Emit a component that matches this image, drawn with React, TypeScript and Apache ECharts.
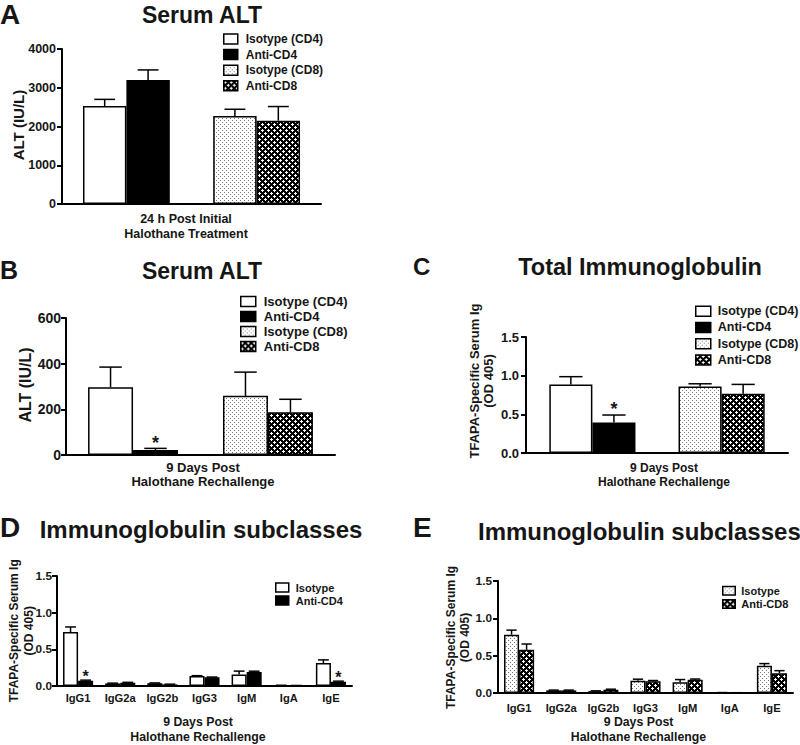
import React, { useEffect, useRef } from 'react';
import * as echarts from 'echarts';

// ---------------- data ----------------
const groupNames = ['Isotype (CD4)', 'Anti-CD4', 'Isotype (CD8)', 'Anti-CD8'];
const initialCategory = ['24 h Post Initial\nHalothane Treatment'];
const rechallengeCategory = ['9 Days Post\nHalothane Rechallenge'];
const subclassCategories = ['IgG1', 'IgG2a', 'IgG2b', 'IgG3', 'IgM', 'IgA', 'IgE'];

const altInitialTicks = [0, 1000, 2000, 3000, 4000];
const altInitialValues = [2530, 3200, 2270, 2150];
const altInitialErrors = [170, 260, 175, 365];

const altRechallengeTicks = [0, 200, 400, 600];
const altRechallengeValues = [297, 22, 259, 187];
const altRechallengeErrors = [88, 7, 104, 57];
const altRechallengeStars = [0, 1, 0, 0];

const odTicks = [0, 0.5, 1.0, 1.5];
const totalIgValues = [0.887, 0.396, 0.86, 0.767];
const totalIgErrors = [0.1, 0.095, 0.035, 0.12];
const totalIgStars = [0, 1, 0, 0];

const cd4SubNames = ['Isotype', 'Anti-CD4'];
const cd4IsotypeValues = [0.735, 0.035, 0.038, 0.136, 0.158, 0.008, 0.314];
const cd4IsotypeErrors = [0.07, 0.004, 0.004, 0.005, 0.045, 0.002, 0.042];
const cd4AntiValues = [0.072, 0.045, 0.022, 0.118, 0.19, 0.005, 0.058];
const cd4AntiErrors = [0.008, 0.005, 0.003, 0.004, 0.012, 0.002, 0.008];
const cd4AntiStars = [1, 0, 0, 0, 0, 0, 1];

const cd8SubNames = ['Isotype', 'Anti-CD8'];
const cd8IsotypeValues = [0.78, 0.035, 0.025, 0.165, 0.145, 0.005, 0.364];
const cd8IsotypeErrors = [0.062, 0.004, 0.004, 0.02, 0.035, 0.001, 0.03];
const cd8AntiValues = [0.578, 0.035, 0.045, 0.157, 0.177, 0.003, 0.264];
const cd8AntiErrors = [0.078, 0.004, 0.006, 0.01, 0.01, 0.001, 0.035];

// ---------------- styling ----------------
const FONT = '"Liberation Sans", Arial, Helvetica, sans-serif';
const INK = '#161616';

function makePattern(bg: string, fg: string, pts: number[][], size: number) {
  const c = document.createElement('canvas');
  c.width = size;
  c.height = size;
  const ctx = c.getContext('2d')!;
  ctx.fillStyle = bg;
  ctx.fillRect(0, 0, size, size);
  ctx.fillStyle = fg;
  pts.forEach(([x, y, w, h]) => ctx.fillRect(x, y, w, h));
  return { image: c, repeat: 'repeat', imageWidth: size, imageHeight: size };
}

function buildOption() {
  const dotPattern = makePattern('#ffffff', '#7a7a7a', [[0, 0, 1, 1], [2, 2, 1, 1]], 4);
  const hatchPattern = makePattern('#000000', '#ffffff', [
    [1, 0, 1, 1], [0, 1, 3, 1], [1, 2, 1, 1],
    [4, 3, 1, 1], [3, 4, 3, 1], [4, 5, 1, 1],
  ], 6);
  const border = { borderColor: '#000', borderWidth: 1.5 };
  const whiteStyle = { color: '#ffffff', ...border };
  const blackStyle = { color: '#000000', ...border };
  const dotStyle = { color: dotPattern, ...border };
  const hatchStyle = { color: hatchPattern, ...border };
  const groupStyles = [whiteStyle, blackStyle, dotStyle, hatchStyle];

  const grids = [
    { left: 62, top: 49, width: 259, height: 155 },
    { left: 66, top: 318, width: 269, height: 137 },
    { left: 526, top: 337, width: 262, height: 116 },
    { left: 57, top: 576, width: 295, height: 115 },
    { left: 498, top: 581, width: 295, height: 114 },
  ];

  const yAxis = (gridIndex: number, ticks: number[], fontSize: number, margin: number, decimals: boolean) => ({
    type: 'value',
    gridIndex,
    min: ticks[0],
    max: ticks[ticks.length - 1],
    interval: ticks[1] - ticks[0],
    axisLine: { show: true, lineStyle: { color: '#000', width: 2 } },
    axisTick: { show: true, length: 5, lineStyle: { color: '#000', width: 2 } },
    splitLine: { show: false },
    axisLabel: {
      color: INK,
      fontSize,
      fontWeight: 'bold',
      fontFamily: FONT,
      margin,
      formatter: (v: number) => (decimals ? v.toFixed(1) : String(v)),
    },
  });

  const groupXAxis = (gridIndex: number, data: string[], fontSize: number, lineHeight: number, margin: number, padding: number[]) => ({
    type: 'category',
    gridIndex,
    data,
    axisTick: { show: false },
    axisLine: { lineStyle: { color: '#000', width: 2 } },
    axisLabel: { color: INK, fontSize, fontWeight: 'bold', fontFamily: FONT, lineHeight, margin, padding, interval: 0 },
  });

  const subXAxis = (gridIndex: number, labelMargin: number, nameGap: number, padding: number[]) => ({
    type: 'category',
    gridIndex,
    data: subclassCategories,
    axisTick: { show: false },
    axisLine: { lineStyle: { color: '#000', width: 2 } },
    axisLabel: { color: INK, fontSize: 11.2, fontWeight: 'bold', fontFamily: FONT, margin: labelMargin, interval: 0 },
    name: rechallengeCategory[0],
    nameLocation: 'middle',
    nameGap,
    nameMoveOverlap: false,
    nameTextStyle: { color: INK, fontSize: 12.3, fontWeight: 'bold', fontFamily: FONT, lineHeight: 14.5, padding },
  });

  const errorSeries = (gridIdx: number, data: number[][], nSlots: number, gapFrac: number, capFrac: number, starSize: number, starOffset: number) => ({
    type: 'custom',
    name: 'error' + gridIdx,
    xAxisIndex: gridIdx,
    yAxisIndex: gridIdx,
    z: 5,
    silent: true,
    encode: { x: 0, y: 1 },
    data,
    renderItem: (params: any, api: any) => {
      const cat = api.value(0);
      const val = api.value(1);
      const err = api.value(2);
      const slot = api.value(3);
      const star = api.value(4);
      const band = api.size([1, 0])[0];
      const used = band * (1 - gapFrac);
      const bw = used / nSlots;
      const cx = api.coord([cat, 0])[0] - used / 2 + bw * (slot + 0.5);
      const yv = api.coord([cat, val])[1];
      const ye = api.coord([cat, val + err])[1];
      const half = bw * capFrac;
      const ls = { stroke: '#000', lineWidth: 1.5 };
      const children: any[] = [
        { type: 'line', shape: { x1: cx, y1: yv, x2: cx, y2: ye }, style: ls },
        { type: 'line', shape: { x1: cx - half, y1: ye, x2: cx + half, y2: ye }, style: ls },
      ];
      if (star) {
        children.push({
          type: 'text',
          x: cx,
          y: ye - starOffset,
          style: {
            text: '*', fill: INK, fontSize: starSize, fontWeight: 'bold', fontFamily: FONT,
            textAlign: 'center', textVerticalAlign: 'middle', align: 'center', verticalAlign: 'middle',
          },
        });
      }
      return { type: 'group', children };
    },
  });

  const groupBars = (gridIdx: number, values: number[], gap: string) => {
    const out: any[] = [];
    groupNames.forEach((name, i) => {
      if (i === 2) {
        out.push({
          type: 'bar', name: 'spacer' + gridIdx, xAxisIndex: gridIdx, yAxisIndex: gridIdx,
          data: ['-'], barGap: '0%', barCategoryGap: gap, silent: true,
        });
      }
      out.push({
        type: 'bar', name, xAxisIndex: gridIdx, yAxisIndex: gridIdx, data: [values[i]],
        itemStyle: groupStyles[i], barGap: '0%', barCategoryGap: gap, silent: true,
      });
    });
    return out;
  };

  const groupErrData = (values: number[], errors: number[], stars: number[]) =>
    values.map((v, i) => [0, v, errors[i], i < 2 ? i : i + 1, stars[i]]);

  const subBars = (gridIdx: number, names: string[], values: number[][], styles: any[]) =>
    names.map((name, i) => ({
      type: 'bar', name, xAxisIndex: gridIdx, yAxisIndex: gridIdx, data: values[i],
      itemStyle: styles[i], barGap: '0%', barCategoryGap: '28.6%', silent: true,
    }));

  const subErrData = (values: number[][], errors: number[][], stars: number[][]) => {
    const out: number[][] = [];
    values.forEach((arr, s) => arr.forEach((v, c) => out.push([c, v, errors[s][c], s, stars[s][c]])));
    return out;
  };

  const legend = (left: number, top: number, names: string[], styles: any[], iw: number, ih: number, fontSize: number, lineHeight: number, pad: number) => ({
    orient: 'vertical',
    left,
    top,
    padding: 0,
    itemGap: 0,
    itemWidth: iw,
    itemHeight: ih,
    icon: 'rect',
    selectedMode: false,
    textStyle: { color: INK, fontSize, fontWeight: 'bold', fontFamily: FONT, lineHeight, padding: [0, 0, 0, pad] },
    data: names.map((n, i) => ({ name: n, itemStyle: { ...styles[i], borderColor: '#000', borderWidth: 1.5 } })),
  });

  const gtext = (text: string, x: number, y: number, size: number, align = 'center', rotation = 0, lineHeight?: number) => ({
    type: 'text',
    x,
    y,
    rotation,
    silent: true,
    style: {
      text, fill: INK, fontSize: size, fontWeight: 'bold', fontFamily: FONT,
      textAlign: align, textVerticalAlign: 'middle', align, verticalAlign: 'middle', lineHeight,
    },
  });

  const yName = 'TFAPA-Specific Serum Ig\n(OD 405)';
  const R = Math.PI / 2;

  return {
    animation: false,
    backgroundColor: '#ffffff',
    textStyle: { fontFamily: FONT },
    grid: grids,
    xAxis: [
      groupXAxis(0, initialCategory, 12.5, 15, 7.5, [0, 11, 0, 0]),
      groupXAxis(1, rechallengeCategory, 13, 14, 5.5, [0, 0, 0, 5]),
      groupXAxis(2, rechallengeCategory, 12, 14, 7.5, [0, 0, 0, 14]),
      subXAxis(3, 6, 29, [0, 13, 0, 0]),
      subXAxis(4, 9, 22, [0, 14, 0, 0]),
    ],
    yAxis: [
      yAxis(0, altInitialTicks, 12.5, 6, false),
      yAxis(1, altRechallengeTicks, 14, 5, false),
      yAxis(2, odTicks, 13, 7, true),
      yAxis(3, odTicks, 11.8, 5, true),
      yAxis(4, odTicks, 11.8, 6, true),
    ],
    legend: [
      legend(223, 31.2, groupNames, groupStyles, 14, 10, 12, 15.6, 3),
      legend(240, 294, groupNames, groupStyles, 15, 10, 13, 15, 3),
      legend(695, 303, groupNames, groupStyles, 15, 10, 12.5, 16.3, 2),
      legend(275, 581, cd4SubNames, [whiteStyle, blackStyle], 13, 9, 11, 13, 2),
      legend(722, 584, cd8SubNames, [dotStyle, hatchStyle], 12.5, 8.5, 11, 13.3, 1),
    ],
    graphic: {
      elements: [
        gtext('A', 0, 14, 28, 'left'),
        gtext('Serum ALT', 202, 15, 23),
        gtext('B', 0, 270, 25, 'left'),
        gtext('Serum ALT', 202, 270.5, 23),
        gtext('C', 413, 266.5, 24, 'left'),
        gtext('Total Immunoglobulin', 640, 267.2, 23.5),
        gtext('D', 0, 527, 28, 'left'),
        gtext('Immunoglobulin subclasses', 201, 529, 24),
        gtext('E', 413, 527.5, 28, 'left'),
        gtext('Immunoglobulin subclasses', 478, 531.3, 24, 'left'),
        gtext('ALT (IU/L)', 18, 125, 15, 'center', R),
        gtext('ALT (IU/L)', 25, 385, 16, 'center', R),
        gtext(yName, 481.5, 381, 13, 'center', R, 14),
        gtext(yName, 21.3, 630.8, 12, 'center', R, 15),
        gtext(yName, 458.3, 637.5, 12, 'center', R, 14),
      ],
    },
    series: [
      ...groupBars(0, altInitialValues, '16.2%'),
      errorSeries(0, groupErrData(altInitialValues, altInitialErrors, [0, 0, 0, 0]), 5, 0.162, 0.24, 18, 5),
      ...groupBars(1, altRechallengeValues, '16.4%'),
      errorSeries(1, groupErrData(altRechallengeValues, altRechallengeErrors, altRechallengeStars), 5, 0.164, 0.25, 18, 5),
      ...groupBars(2, totalIgValues, '17.8%'),
      errorSeries(2, groupErrData(totalIgValues, totalIgErrors, totalIgStars), 5, 0.178, 0.27, 18, 6.4),
      ...subBars(3, cd4SubNames, [cd4IsotypeValues, cd4AntiValues], [whiteStyle, blackStyle]),
      errorSeries(3, subErrData([cd4IsotypeValues, cd4AntiValues], [cd4IsotypeErrors, cd4AntiErrors], [[0, 0, 0, 0, 0, 0, 0], cd4AntiStars]), 2, 0.286, 0.36, 16, 4),
      ...subBars(4, cd8SubNames, [cd8IsotypeValues, cd8AntiValues], [dotStyle, hatchStyle]),
      errorSeries(4, subErrData([cd8IsotypeValues, cd8AntiValues], [cd8IsotypeErrors, cd8AntiErrors], [[0, 0, 0, 0, 0, 0, 0], [0, 0, 0, 0, 0, 0, 0]]), 2, 0.286, 0.34, 16, 4),
    ],
  };
}

export default function App() {
  const ref = useRef<HTMLDivElement>(null);
  useEffect(() => {
    document.body.style.margin = '0';
    const chart = echarts.init(ref.current!, null, { renderer: 'svg' });
    chart.setOption(buildOption() as any);
    return () => chart.dispose();
  }, []);
  return <div ref={ref} style={{ width: 800, height: 745, background: '#ffffff' }} />;
}
